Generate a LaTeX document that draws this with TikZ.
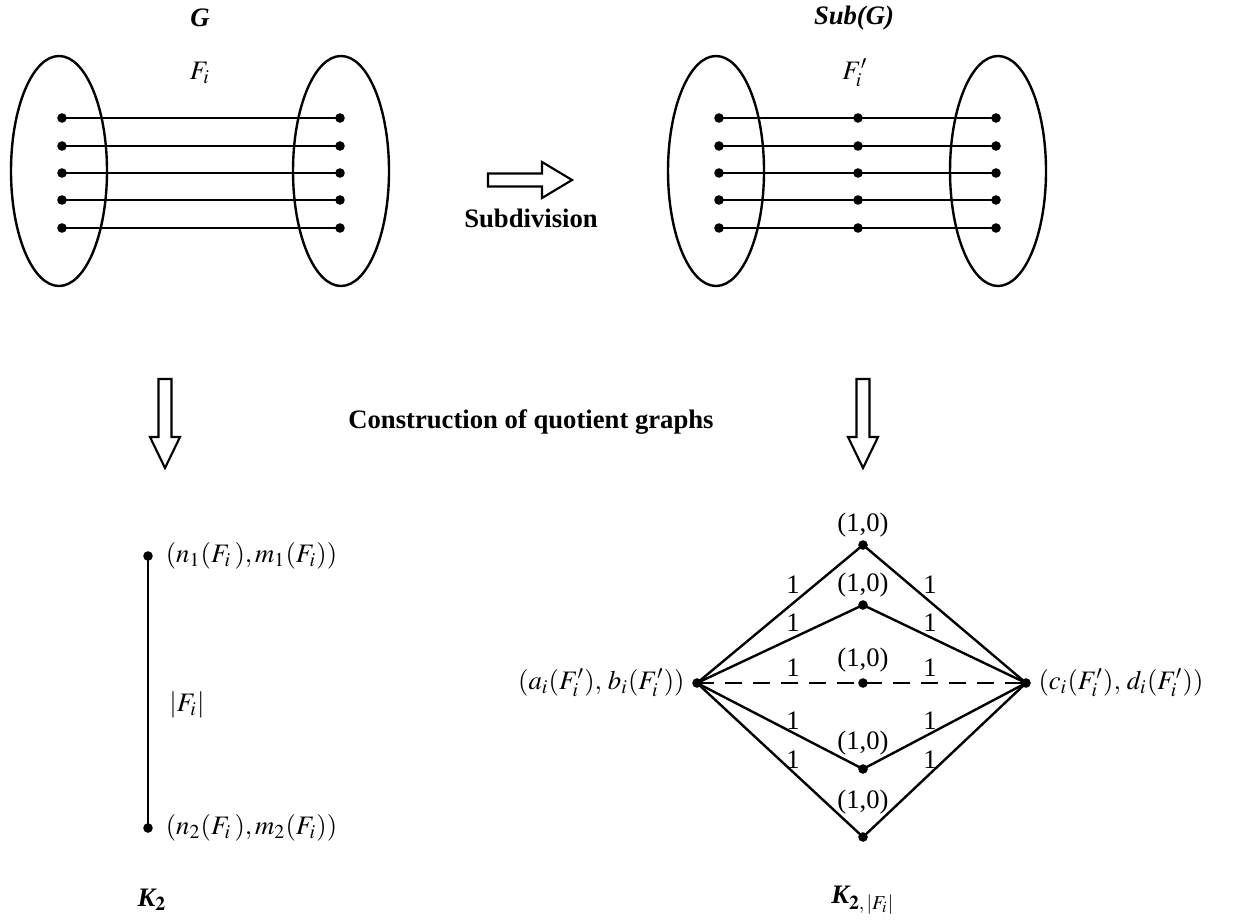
\documentclass[tikz,border=0pt]{standalone}
\usepackage{mathptmx}
\usepackage{fontspec}
\setmainfont{Liberation Serif}
\usetikzlibrary{positioning}

\tikzset{
  dot/.style={circle,fill,inner sep=0pt,minimum size=3.6pt},
  lbl/.style={inner sep=1pt},
  fatarrow/.style={line width=0.8pt,line join=miter},
}

\begin{document}
\begin{tikzpicture}[x=0.375pt,y=-0.375pt,line width=0.9pt]
\useasboundingbox (0,0) rectangle (1246,923);
% titles
\node (tG) at (200,18) {\bfseries\itshape G};
\node (tS) at (854,18) {\bfseries\itshape Sub(G)};
% G
\draw (59,171) ellipse [x radius=48,y radius=115];
\draw (341,171) ellipse [x radius=48,y radius=115];
\node (fG) at (200,73) {$F_i$};
\foreach \i/\y in {1/118,2/146,3/173,4/200,5/228}{
    \node[dot] (gl\i) at (62,\y) {};
    \node[dot] (gr\i) at (340,\y) {};
    \draw (gl\i.center) -- (gr\i.center);}
% Sub(G)
\draw (716,171) ellipse [x radius=48,y radius=115];
\draw (998,171) ellipse [x radius=48,y radius=115];
\node (fS) at (855,73) {$F_i'$};
\foreach \i/\y in {1/118,2/146,3/173,4/200,5/228}{
    \node[dot] (sl\i) at (719,\y) {};
    \node[dot] (sm\i) at (858,\y) {};
    \node[dot] (sr\i) at (996,\y) {};
    \draw (sl\i.center) -- (sm\i.center) -- (sr\i.center);}
% arrows
\draw[fatarrow] (488,173.5) -- (542,173.5) -- (542,162) -- (572,180)
    -- (542,198) -- (542,186.5) -- (488,186.5) -- cycle;
\node (sub) at (531,218) {\bfseries Subdivision};
\foreach \c in {165,863}
    \draw[fatarrow] (\c-6.5,379) -- (\c-6.5,437) -- (\c-15,437) -- (\c,468)
        -- (\c+15,437) -- (\c+6.5,437) -- (\c+6.5,379) -- cycle;
\node (cq) at (531,422) {\bfseries Construction of quotient graphs};
% K_2
\node[dot] (k1) at (148,556) {};
\node[dot] (k2) at (148,828) {};
\draw (k1.center) -- (k2.center);
\node[lbl,right=3pt of k1] {$(n_1(F_i\,), m_1(F_i))$};
\node[lbl,right=3pt of k2] {$(n_2(F_i\,), m_2(F_i))$};
\node (kw) at (187,705) {$|F_i|$};
\node (kt) at (152,900) {\bfseries\itshape K$_{\mathbf{2}}$};
% K_{2,|F_i|}
\node[dot] (A) at (697,683) {};
\node[dot] (C) at (1026,683) {};
\foreach \n/\y/\d in {t1/545/20,t2/605/20,t3/683/23,t4/769/26,t5/837/35}{
    \node[dot] (\n) at (863,\y) {};
    \node[lbl] at (863,\y-\d) {(1,0)};}
\foreach \n in {t1,t2,t4,t5}
    \draw (A.center) -- (\n.center) -- (C.center);
\draw[dash pattern=on 6.5pt off 4pt] (A.center) -- (t3.center) -- (C.center);
\foreach \x/\y in {793/585,930/585,793/623,930/623,793/668,930/668,
    793/721,930/721,793/760,930/760}
    \node[lbl] at (\x,\y) {1};
\node[lbl,left=1pt of A] {$(a_i(F_i'),\, b_i(F_i'))$};
\node[lbl,right=1pt of C] {$(c_i(F_i'),\, d_i(F_i'))$};
\node (dt) at (863,900) {\bfseries\itshape K$_{\mathbf{2,}\,|F_i|}$};
\end{tikzpicture}
\end{document}
